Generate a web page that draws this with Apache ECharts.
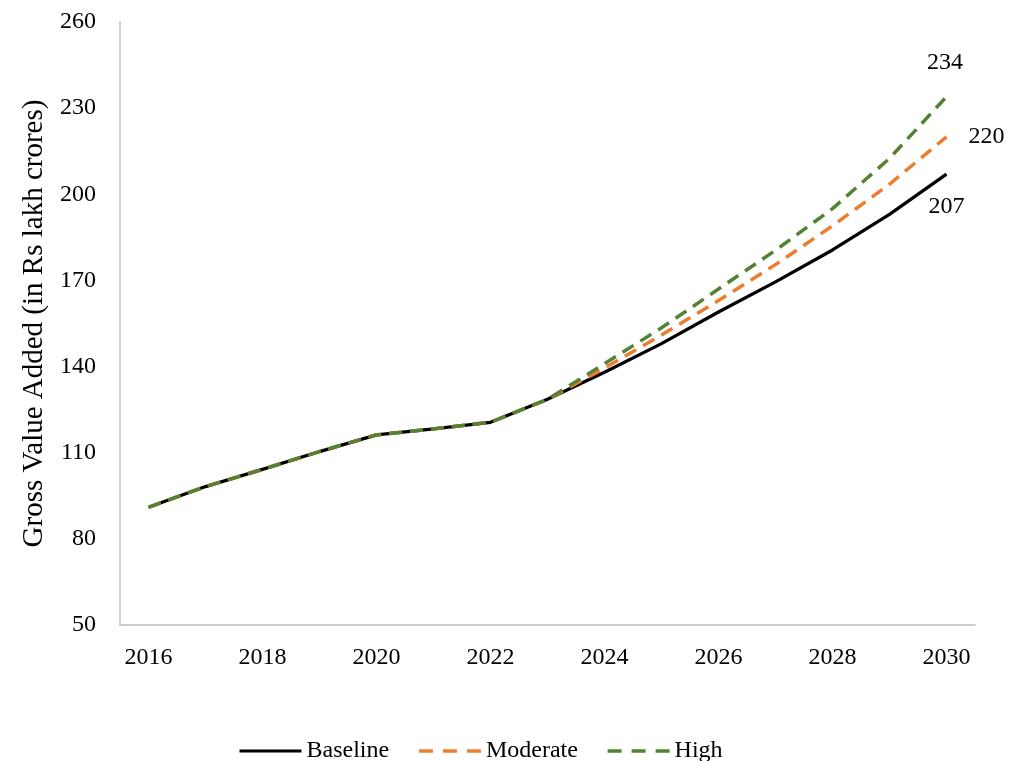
<!DOCTYPE html>
<html>
<head>
<meta charset="utf-8">
<script src="https://cdn.jsdelivr.net/npm/echarts@6/dist/echarts.min.js"></script>
<style>
  html, body { margin: 0; padding: 0; background: #ffffff; }
  #chart { width: 1025px; height: 761px; }
</style>
</head>
<body>
<div id="chart"></div>
<script>
// Gross value added projections, Rs lakh crores
const years = ['2016', '2017', '2018', '2019', '2020', '2021', '2022', '2023',
               '2024', '2025', '2026', '2027', '2028', '2029', '2030'];
const history = [91.0, 98.2, 104.2, 110.4, 116.2, 118.3, 120.6, 128.6];
const baselineProj = [138.0, 148.0, 159.0, 169.5, 180.6, 193.0, 207];
const moderateProj = [139.5, 151.0, 163.0, 175.5, 189.0, 203.5, 220];
const highProj     = [141.0, 153.5, 167.0, 180.5, 195.0, 212.5, 234];
const yTicks = { min: 50, max: 260, step: 30 };

const FONT = "'Liberation Serif', 'DejaVu Serif', serif";

const baseline = history.concat(baselineProj);
const moderate = history.concat(moderateProj);
const high = history.concat(highProj);

// Value label placed near the last point of a series
function endLabel(offset) {
  return {
    show: true, formatter: '{c}', distance: 0, offset: offset,
    align: 'center', verticalAlign: 'middle',
    color: '#000', fontFamily: FONT, fontSize: 24
  };
}

const chart = echarts.init(document.getElementById('chart'));
chart.setOption({
  animation: false,
  backgroundColor: '#ffffff',
  textStyle: { fontFamily: FONT },
  grid: { left: 120, right: 50, top: 22, bottom: 136, containLabel: false },
  legend: {
    left: 238, top: 739, padding: 0,
    itemWidth: 62, itemHeight: 24, itemGap: 28,
    itemStyle: { opacity: 0 },
    lineStyle: { width: 3 },
    textStyle: { fontFamily: FONT, fontSize: 24, color: '#000' },
    data: [
      { name: 'Baseline' },
      { name: 'Moderate', lineStyle: { type: [14, 10], width: 3.5 } },
      { name: 'High', lineStyle: { type: [14, 10], width: 3.5 } }
    ]
  },
  xAxis: {
    type: 'category',
    data: years,
    boundaryGap: true,
    axisLine: { lineStyle: { color: '#BFBFBF', width: 1.5 } },
    axisTick: { show: false },
    axisLabel: { interval: 1, margin: 21, color: '#000', fontFamily: FONT, fontSize: 24 }
  },
  yAxis: {
    type: 'value',
    min: yTicks.min, max: yTicks.max, interval: yTicks.step,
    name: 'Gross Value Added (in Rs lakh crores)',
    nameLocation: 'middle',
    nameGap: 70,
    nameTextStyle: { color: '#000', fontFamily: FONT, fontSize: 29 },
    axisLine: { show: true, lineStyle: { color: '#BFBFBF', width: 1.5 } },
    axisTick: { show: false },
    splitLine: { show: false },
    axisLabel: { margin: 24, color: '#000', fontFamily: FONT, fontSize: 24 }
  },
  series: [
    {
      name: 'Baseline', type: 'line', symbol: 'none',
      data: baseline,
      lineStyle: { color: '#000000', width: 3.25 },
      itemStyle: { color: '#000000' },
      endLabel: endLabel([0, 32.5]), z: 2
    },
    {
      name: 'Moderate', type: 'line', symbol: 'none',
      data: moderate,
      lineStyle: { color: '#ED7D31', width: 3.5, type: [13, 8] },
      itemStyle: { color: '#ED7D31' },
      endLabel: endLabel([40, 0]), z: 3
    },
    {
      name: 'High', type: 'line', symbol: 'none',
      data: high,
      lineStyle: { color: '#548235', width: 3.5, type: [13, 8] },
      itemStyle: { color: '#548235' },
      endLabel: endLabel([-1.5, -34]), z: 4
    }
  ]
});
</script>
</body>
</html>
